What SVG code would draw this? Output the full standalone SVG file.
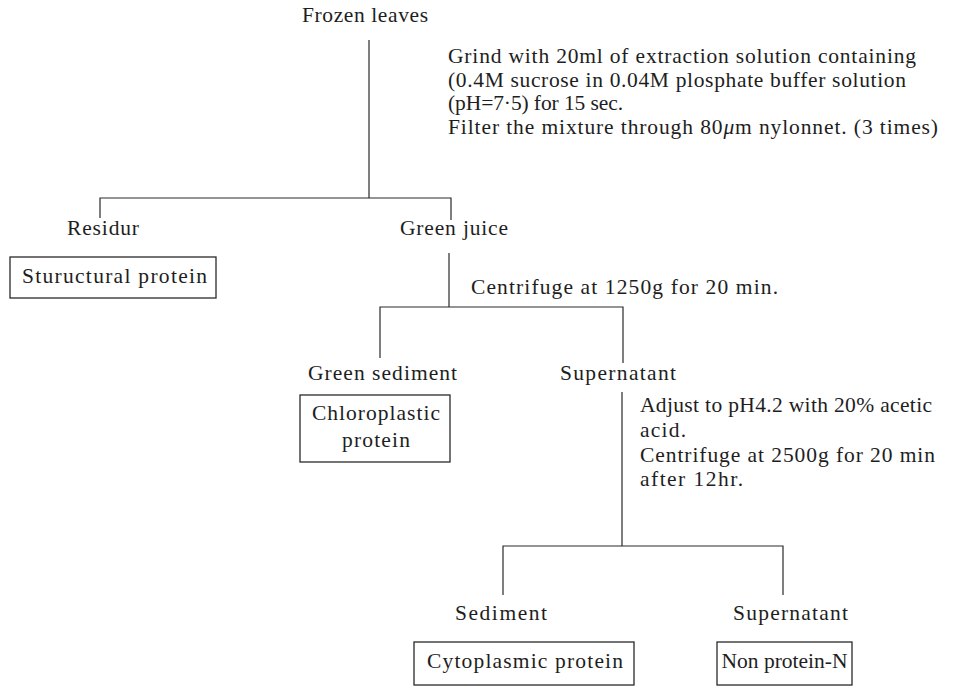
<svg xmlns="http://www.w3.org/2000/svg" width="966" height="686" viewBox="0 0 966 686">
<style>
text{font-family:"Liberation Serif","Times New Roman",serif;font-size:21.5px;fill:#1e1e1e}
.ln{stroke:#2a2a2a;stroke-width:1.2;fill:none}
.box{stroke:#2a2a2a;stroke-width:1.3;fill:#fff}
</style>
<rect width="966" height="686" fill="#fff"/>
<g id="connectors">
<path class="ln" d="M369 40V198M100 218V198H451V220"/>
<path class="ln" d="M449 253V307M380 358V307H623V363"/>
<path class="ln" d="M622 392V546M503 595V546H783V595"/>
</g>
<g id="frozen-leaves"><text x="302" y="22" textLength="126" lengthAdjust="spacing">Frozen leaves</text></g>
<g id="step1">
<text x="448" y="63" textLength="468" lengthAdjust="spacing">Grind with 20ml of extraction solution containing</text>
<text x="448" y="87" textLength="458" lengthAdjust="spacing">(0.4M sucrose in 0.04M plosphate buffer solution</text>
<text x="448" y="110" textLength="175" lengthAdjust="spacing">(pH=7·5) for 15 sec.</text>
<text x="448" y="134" textLength="490" lengthAdjust="spacing">Filter the mixture through 80<tspan font-style="italic">μ</tspan>m nylonnet. (3 times)</text>
</g>
<g id="residur"><text x="67" y="235" textLength="72" lengthAdjust="spacing">Residur</text></g>
<g id="structural-protein">
<rect class="box" x="10" y="257" width="206" height="41"/>
<text x="22" y="283" textLength="185" lengthAdjust="spacing">Stuructural protein</text>
</g>
<g id="green-juice"><text x="400" y="235" textLength="108" lengthAdjust="spacing">Green juice</text></g>
<g id="step2"><text x="471" y="294" textLength="307" lengthAdjust="spacing">Centrifuge at 1250g for 20 min.</text></g>
<g id="green-sediment"><text x="308" y="380" textLength="149" lengthAdjust="spacing">Green sediment</text></g>
<g id="chloroplastic-protein">
<rect class="box" x="300" y="395" width="150" height="67"/>
<text x="312" y="420" textLength="128" lengthAdjust="spacing">Chloroplastic</text>
<text x="342" y="447" textLength="68" lengthAdjust="spacing">protein</text>
</g>
<g id="supernatant1"><text x="560" y="380" textLength="116" lengthAdjust="spacing">Supernatant</text></g>
<g id="step3">
<text x="640" y="412" textLength="292" lengthAdjust="spacing">Adjust to pH4.2 with 20% acetic</text>
<text x="640" y="437" textLength="46" lengthAdjust="spacing">acid.</text>
<text x="640" y="462" textLength="295" lengthAdjust="spacing">Centrifuge at 2500g for 20 min</text>
<text x="640" y="486" textLength="103" lengthAdjust="spacing">after 12hr.</text>
</g>
<g id="sediment"><text x="455" y="620" textLength="92" lengthAdjust="spacing">Sediment</text></g>
<g id="cytoplasmic-protein">
<rect class="box" x="414" y="642" width="220" height="43"/>
<text x="427" y="668" textLength="196" lengthAdjust="spacing">Cytoplasmic protein</text>
</g>
<g id="supernatant2"><text x="733" y="620" textLength="115" lengthAdjust="spacing">Supernatant</text></g>
<g id="non-protein-n">
<rect class="box" x="717" y="642" width="135" height="43"/>
<text x="784.5" y="668" text-anchor="middle">Non protein-N</text>
</g>
</svg>
